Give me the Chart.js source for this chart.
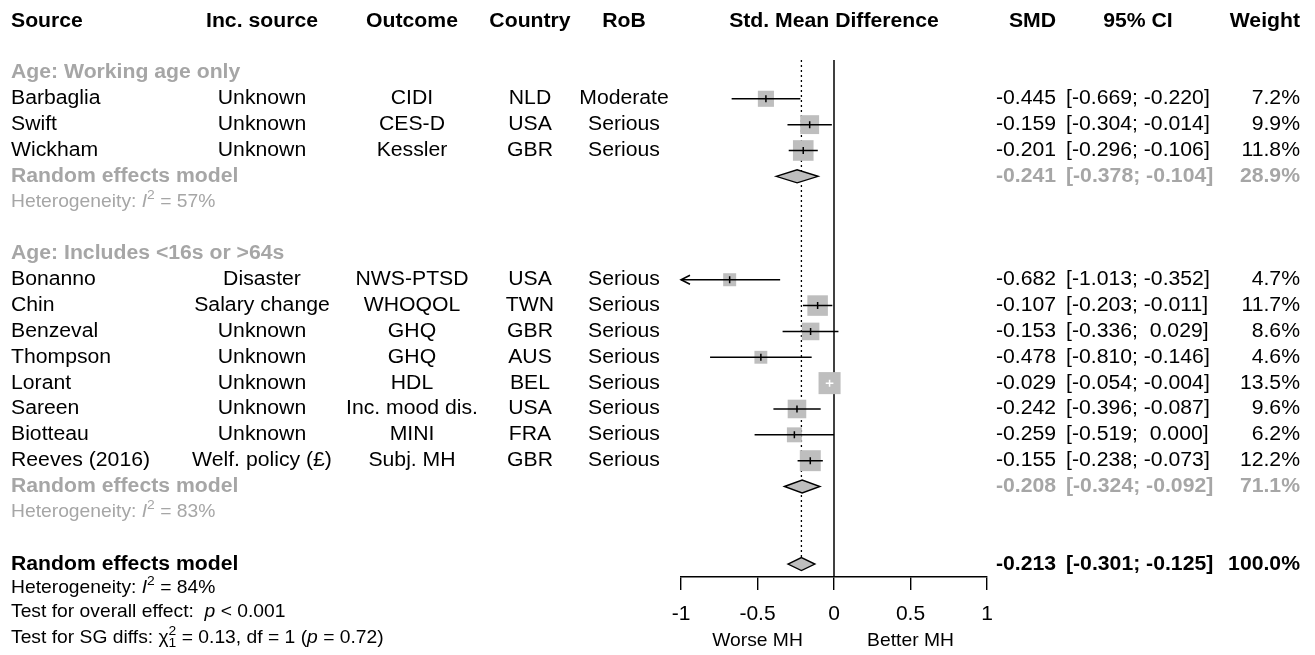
<!DOCTYPE html>
<html>
<head>
<meta charset="utf-8">
<title>Forest plot</title>
<script src="https://cdn.jsdelivr.net/npm/chart.js@4.4.1/dist/chart.umd.min.js"></script>
<style>
  html, body { margin: 0; padding: 0; background: #fff; }
  canvas { display: block; }
</style>
</head>
<body>
<canvas id="forest" width="1315" height="655"></canvas>
<script>
// Study-level data
const studies = ['Barbaglia', 'Swift', 'Wickham', 'Bonanno', 'Chin', 'Benzeval', 'Thompson', 'Lorant', 'Sareen', 'Biotteau', 'Reeves (2016)'];
const incSource = ['Unknown', 'Unknown', 'Unknown', 'Disaster', 'Salary change', 'Unknown', 'Unknown', 'Unknown', 'Unknown', 'Unknown', 'Welf. policy (£)'];
const outcome = ['CIDI', 'CES-D', 'Kessler', 'NWS-PTSD', 'WHOQOL', 'GHQ', 'GHQ', 'HDL', 'Inc. mood dis.', 'MINI', 'Subj. MH'];
const country = ['NLD', 'USA', 'GBR', 'USA', 'TWN', 'GBR', 'AUS', 'BEL', 'USA', 'FRA', 'GBR'];
const rob = ['Moderate', 'Serious', 'Serious', 'Serious', 'Serious', 'Serious', 'Serious', 'Serious', 'Serious', 'Serious', 'Serious'];
const smd = [-0.445, -0.159, -0.201, -0.682, -0.107, -0.153, -0.478, -0.029, -0.242, -0.259, -0.155];
const ciLow = [-0.669, -0.304, -0.296, -1.013, -0.203, -0.336, -0.810, -0.054, -0.396, -0.519, -0.238];
const ciHigh = [-0.220, -0.014, -0.106, -0.352, -0.011, 0.029, -0.146, -0.004, -0.087, 0.000, -0.073];
const weight = [7.2, 9.9, 11.8, 4.7, 11.7, 8.6, 4.6, 13.5, 9.6, 6.2, 12.2];
const studyGroup = [0, 0, 0, 1, 1, 1, 1, 1, 1, 1, 1];

// Subgroups (random effects)
const groupNames = ['Age: Working age only', 'Age: Includes <16s or >64s'];
const groupSmd = [-0.241, -0.208];
const groupLow = [-0.378, -0.324];
const groupHigh = [-0.104, -0.092];
const groupWeight = [28.9, 71.1];
const groupI2 = [57, 83];

// Overall model
const overallSmd = -0.213;
const overallLow = -0.301;
const overallHigh = -0.125;
const overallWeight = 100.0;
const overallI2 = 84;
const overallP = '0.001';
const sgChi2 = '0.13';
const sgDf = 1;
const sgP = '0.72';

const xTicks = [-1, -0.5, 0, 0.5, 1];
const xLabels = ['Worse MH', 'Better MH'];

// ---- layout ----
const FONT = '"Liberation Sans", Arial, Helvetica, sans-serif';
const FS = 20;          // table text
const FS_SMALL = 18.2;  // heterogeneity / test lines
const HS = 1.06;        // text is a little wide
const GREY = '#a6a6a6';
const BOX = '#bebebe';
const DIAMOND_H = 6.5;

// build the row list: header (0), blank (1), then groups, then overall
const rows = [];
groupNames.forEach((name, g) => {
  rows.push({ kind: 'group', g });
  studies.forEach((s, i) => { if (studyGroup[i] === g) rows.push({ kind: 'study', i }); });
  rows.push({ kind: 'pooled', g });
  rows.push({ kind: 'het', g });
  rows.push({ kind: 'blank' });
});
rows.push({ kind: 'overall' });
rows.forEach((r, k) => { r.row = k + 2; });

const studyRow = [];
rows.forEach(r => { if (r.kind === 'study') studyRow[r.i] = r.row; });
const overallRow = rows[rows.length - 1].row;

// square side grows with sqrt of weight
function boxSide(w) { return 6 * Math.sqrt(w); }

function fmt(v) { return (v < 0 ? '' : ' ') + v.toFixed(3); }
function ciText(lo, hi) { return '[' + fmt(lo) + '; ' + fmt(hi) + ']'; }

// draw a run of text pieces (italic, super/subscript) left to right
function richText(ctx, parts, x, y, size, color) {
  ctx.save();
  ctx.translate(x, y);
  ctx.scale(HS, 1);
  ctx.fillStyle = color;
  ctx.textAlign = 'left';
  ctx.textBaseline = 'middle';
  let cx = 0;
  parts.forEach(p => {
    const s = p.sup || p.sub ? size * 0.72 : size;
    ctx.font = (p.italic ? 'italic ' : '') + s + 'px ' + FONT;
    const dy = p.sup ? -size * 0.38 : p.sub ? size * 0.3 : 0;
    ctx.fillText(p.t, cx, dy);
    if (!p.stack) cx += ctx.measureText(p.t).width;
  });
  ctx.restore();
}

function diamond(ctx, xs, yp, est, lo, hi) {
  const xe = xs.getPixelForValue(est), xl = xs.getPixelForValue(lo), xh = xs.getPixelForValue(hi);
  ctx.beginPath();
  ctx.moveTo(xl, yp);
  ctx.lineTo(xe, yp - DIAMOND_H);
  ctx.lineTo(xh, yp);
  ctx.lineTo(xe, yp + DIAMOND_H);
  ctx.closePath();
  ctx.fillStyle = BOX;
  ctx.fill();
  ctx.strokeStyle = '#000';
  ctx.lineWidth = 1.4;
  ctx.stroke();
}

const forestPlugin = {
  id: 'forest',
  beforeDatasetsDraw(chart) {
    const { ctx, chartArea, scales: { x, y } } = chart;
    ctx.save();
    // line of no effect
    const x0 = x.getPixelForValue(0);
    ctx.strokeStyle = '#000';
    ctx.lineWidth = 1.5;
    ctx.beginPath();
    ctx.moveTo(x0, chartArea.top);
    ctx.lineTo(x0, chartArea.bottom);
    ctx.stroke();
    // overall estimate, dotted
    const xe = x.getPixelForValue(overallSmd);
    ctx.setLineDash([2, 3]);
    ctx.lineWidth = 1.3;
    ctx.beginPath();
    ctx.moveTo(xe, chartArea.top);
    ctx.lineTo(xe, y.getPixelForValue(overallRow) - DIAMOND_H);
    ctx.stroke();
    ctx.restore();
  },
  afterDatasetsDraw(chart) {
    const { ctx, scales: { x, y } } = chart;
    ctx.save();
    ctx.lineWidth = 1.5;
    studies.forEach((s, i) => {
      const yp = y.getPixelForValue(studyRow[i]);
      const xl = x.getPixelForValue(Math.max(ciLow[i], x.min));
      const xh = x.getPixelForValue(Math.min(ciHigh[i], x.max));
      const xm = x.getPixelForValue(smd[i]);
      // whisker goes white when it fits inside its square
      ctx.strokeStyle = (xh - xl) < boxSide(weight[i]) ? '#fff' : '#000';
      ctx.beginPath();
      ctx.moveTo(xl, yp); ctx.lineTo(xh, yp);
      ctx.moveTo(xm, yp - 3.5); ctx.lineTo(xm, yp + 3.5);
      ctx.stroke();
      if (ciLow[i] < x.min) {
        ctx.beginPath();
        ctx.moveTo(xl + 9, yp - 4.5); ctx.lineTo(xl, yp); ctx.lineTo(xl + 9, yp + 4.5);
        ctx.stroke();
      }
    });
    rows.forEach(r => {
      if (r.kind === 'pooled') diamond(ctx, x, y.getPixelForValue(r.row), groupSmd[r.g], groupLow[r.g], groupHigh[r.g]);
    });
    diamond(ctx, x, y.getPixelForValue(overallRow), overallSmd, overallLow, overallHigh);
    ctx.restore();
  },
  afterDraw(chart) {
    const { ctx, scales: { x, y } } = chart;
    const colSource = 11, colInc = 262, colOut = 412, colCountry = 530, colRob = 624;
    const colSmd = 1056, colCi = 1066, colCiHead = 1138, colW = 1300;

    const put = (t, px, py, align, bold, color, size) => {
      ctx.save();
      ctx.translate(px, py);
      ctx.scale(HS, 1);
      ctx.font = (bold ? 'bold ' : '') + (size || FS) + 'px ' + FONT;
      ctx.fillStyle = color || '#000';
      ctx.textAlign = align;
      ctx.textBaseline = 'middle';
      ctx.fillText(t, 0, 0);
      ctx.restore();
    };

    // column headers
    const yh = y.getPixelForValue(0);
    put('Source', colSource, yh, 'left', true);
    put('Inc. source', colInc, yh, 'center', true);
    put('Outcome', colOut, yh, 'center', true);
    put('Country', colCountry, yh, 'center', true);
    put('RoB', colRob, yh, 'center', true);
    put('Std. Mean Difference', x.getPixelForValue(0), yh, 'center', true);
    put('SMD', colSmd, yh, 'right', true);
    put('95% CI', colCiHead, yh, 'center', true);
    put('Weight', colW, yh, 'right', true);

    rows.forEach(r => {
      const yp = y.getPixelForValue(r.row);
      if (r.kind === 'group') {
        put(groupNames[r.g], colSource, yp, 'left', true, GREY);
      } else if (r.kind === 'study') {
        const i = r.i;
        put(studies[i], colSource, yp, 'left');
        put(incSource[i], colInc, yp, 'center');
        put(outcome[i], colOut, yp, 'center');
        put(country[i], colCountry, yp, 'center');
        put(rob[i], colRob, yp, 'center');
        put(smd[i].toFixed(3), colSmd, yp, 'right');
        put(ciText(ciLow[i], ciHigh[i]), colCi, yp, 'left');
        put(weight[i].toFixed(1) + '%', colW, yp, 'right');
      } else if (r.kind === 'pooled') {
        put('Random effects model', colSource, yp, 'left', true, GREY);
        put(groupSmd[r.g].toFixed(3), colSmd, yp, 'right', true, GREY);
        put(ciText(groupLow[r.g], groupHigh[r.g]), colCi, yp, 'left', true, GREY);
        put(groupWeight[r.g].toFixed(1) + '%', colW, yp, 'right', true, GREY);
      } else if (r.kind === 'het') {
        richText(ctx, [{ t: 'Heterogeneity: ' }, { t: 'I', italic: true }, { t: '2', sup: true }, { t: ' = ' + groupI2[r.g] + '%' }],
          colSource, yp, FS_SMALL, GREY);
      } else if (r.kind === 'overall') {
        put('Random effects model', colSource, yp, 'left', true);
        put(overallSmd.toFixed(3), colSmd, yp, 'right', true);
        put(ciText(overallLow, overallHigh), colCi, yp, 'left', true);
        put(overallWeight.toFixed(1) + '%', colW, yp, 'right', true);
      }
    });

    // test lines under the overall model
    richText(ctx, [{ t: 'Heterogeneity: ' }, { t: 'I', italic: true }, { t: '2', sup: true }, { t: ' = ' + overallI2 + '%' }],
      colSource, y.getPixelForValue(overallRow + 0.93), FS_SMALL, '#000');
    richText(ctx, [{ t: 'Test for overall effect:  ' }, { t: 'p', italic: true }, { t: ' < ' + overallP }],
      colSource, y.getPixelForValue(overallRow + 1.86), FS_SMALL, '#000');
    richText(ctx, [{ t: 'Test for SG diffs: ' }, { t: '\u03C7' }, { t: '2', sup: true, stack: true }, { t: '1', sub: true },
      { t: ' = ' + sgChi2 + ', df = ' + sgDf + ' (' }, { t: 'p', italic: true }, { t: ' = ' + sgP + ')' }],
      colSource, y.getPixelForValue(overallRow + 2.86), FS_SMALL, '#000');

    // axis captions
    const yc = 641;
    put(xLabels[0], x.getPixelForValue(-0.5), yc, 'center', false, '#000', FS_SMALL);
    put(xLabels[1], x.getPixelForValue(0.5), yc, 'center', false, '#000', FS_SMALL);
  }
};

const ctx = document.getElementById('forest').getContext('2d');
const chart = new Chart(ctx, {
  type: 'scatter',
  data: {
    datasets: [{
      label: 'Studies',
      data: smd.map((v, i) => ({ x: v, y: studyRow[i] })),
      pointStyle: 'rect',
      pointRadius: weight.map(w => boxSide(w) / Math.SQRT2),
      pointHoverRadius: weight.map(w => boxSide(w) / Math.SQRT2),
      backgroundColor: BOX,
      borderWidth: 0
    }]
  },
  options: {
    responsive: false,
    animation: false,
    events: [],
    layout: { padding: { left: 681, right: 328, top: 60, bottom: 0 } },
    plugins: { legend: { display: false }, tooltip: { enabled: false } },
    scales: {
      x: {
        type: 'linear',
        min: -1,
        max: 1,
        afterBuildTicks: axis => { axis.ticks = xTicks.map(v => ({ value: v })); },
        afterFit: axis => { axis.height = 78; },
        ticks: { color: '#000', font: { family: FONT, size: 21 }, padding: 12, maxRotation: 0, callback: v => String(v) },
        grid: { drawOnChartArea: false, tickLength: 13, color: '#000', lineWidth: 1.4 },
        border: { color: '#000', width: 1.4 }
      },
      y: { type: 'linear', display: false, min: 1.5, max: 21.5, reverse: true }
    }
  },
  plugins: [forestPlugin]
});
</script>
</body>
</html>
